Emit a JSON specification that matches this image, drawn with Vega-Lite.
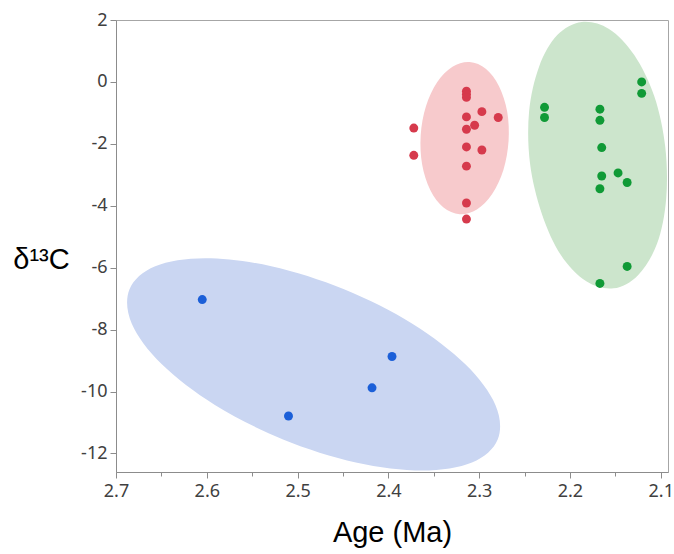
{
  "$schema": "https://vega.github.io/schema/vega-lite/v6.json",
  "width": 552,
  "height": 452,
  "autosize": "none",
  "padding": {"left": 116, "top": 20, "right": 6, "bottom": 82},
  "background": "white",
  "config": {
    "view": {"stroke": "#a6a6a6", "strokeWidth": 1},
    "axis": {
      "domainColor": "#8c8c8c",
      "tickColor": "#8c8c8c",
      "grid": false,
      "labelFont": "Noto Sans",
      "labelFontSize": 18,
      "labelColor": "#404040",
      "titleFont": "Liberation Sans",
      "titleFontWeight": "normal",
      "titleColor": "#000000"
    }
  },
  "datasets": {
    "pts": [
      {"g": "red", "age": 2.314, "d13c": -0.3},
      {"g": "red", "age": 2.314, "d13c": -0.4},
      {"g": "red", "age": 2.314, "d13c": -0.5},
      {"g": "red", "age": 2.297, "d13c": -0.96},
      {"g": "red", "age": 2.279, "d13c": -1.15},
      {"g": "red", "age": 2.314, "d13c": -1.13},
      {"g": "red", "age": 2.305, "d13c": -1.4},
      {"g": "red", "age": 2.314, "d13c": -1.53},
      {"g": "red", "age": 2.372, "d13c": -1.49},
      {"g": "red", "age": 2.372, "d13c": -2.37},
      {"g": "red", "age": 2.314, "d13c": -2.1},
      {"g": "red", "age": 2.297, "d13c": -2.2},
      {"g": "red", "age": 2.314, "d13c": -2.72},
      {"g": "red", "age": 2.314, "d13c": -3.91},
      {"g": "red", "age": 2.314, "d13c": -4.43},
      {"g": "green", "age": 2.121, "d13c": 0.0},
      {"g": "green", "age": 2.121, "d13c": -0.37},
      {"g": "green", "age": 2.228, "d13c": -0.82},
      {"g": "green", "age": 2.228, "d13c": -1.15},
      {"g": "green", "age": 2.167, "d13c": -0.88},
      {"g": "green", "age": 2.167, "d13c": -1.24},
      {"g": "green", "age": 2.165, "d13c": -2.12},
      {"g": "green", "age": 2.165, "d13c": -3.04},
      {"g": "green", "age": 2.167, "d13c": -3.45},
      {"g": "green", "age": 2.147, "d13c": -2.94},
      {"g": "green", "age": 2.137, "d13c": -3.25},
      {"g": "green", "age": 2.137, "d13c": -5.96},
      {"g": "green", "age": 2.167, "d13c": -6.51},
      {"g": "blue", "age": 2.605, "d13c": -7.03},
      {"g": "blue", "age": 2.51, "d13c": -10.79},
      {"g": "blue", "age": 2.418, "d13c": -9.88},
      {"g": "blue", "age": 2.396, "d13c": -8.87}
    ],
    "ell": [
      {"g": "blue", "i": 0, "age": 2.2796, "d13c": -11.547},
      {"g": "blue", "i": 1, "age": 2.2821, "d13c": -10.435},
      {"g": "blue", "i": 2, "age": 2.3152, "d13c": -9.122},
      {"g": "blue", "i": 3, "age": 2.3736, "d13c": -7.809},
      {"g": "blue", "i": 4, "age": 2.4488, "d13c": -6.697},
      {"g": "blue", "i": 5, "age": 2.529, "d13c": -5.953},
      {"g": "blue", "i": 6, "age": 2.6019, "d13c": -5.695},
      {"g": "blue", "i": 7, "age": 2.6568, "d13c": -5.953},
      {"g": "blue", "i": 8, "age": 2.6851, "d13c": -6.697},
      {"g": "blue", "i": 9, "age": 2.6826, "d13c": -7.809},
      {"g": "blue", "i": 10, "age": 2.6495, "d13c": -9.122},
      {"g": "blue", "i": 11, "age": 2.5911, "d13c": -10.435},
      {"g": "blue", "i": 12, "age": 2.516, "d13c": -11.547},
      {"g": "blue", "i": 13, "age": 2.4358, "d13c": -12.29},
      {"g": "blue", "i": 14, "age": 2.3628, "d13c": -12.549},
      {"g": "blue", "i": 15, "age": 2.3079, "d13c": -12.29},
      {"g": "red", "i": 0, "age": 2.3215, "d13c": -4.272},
      {"g": "red", "i": 1, "age": 2.3025, "d13c": -4.12},
      {"g": "red", "i": 2, "age": 2.2857, "d13c": -3.619},
      {"g": "red", "i": 3, "age": 2.2733, "d13c": -2.843},
      {"g": "red", "i": 4, "age": 2.2676, "d13c": -1.909},
      {"g": "red", "i": 5, "age": 2.2691, "d13c": -0.962},
      {"g": "red", "i": 6, "age": 2.278, "d13c": -0.147},
      {"g": "red", "i": 7, "age": 2.2924, "d13c": 0.419},
      {"g": "red", "i": 8, "age": 2.3105, "d13c": 0.642},
      {"g": "red", "i": 9, "age": 2.3294, "d13c": 0.49},
      {"g": "red", "i": 10, "age": 2.3463, "d13c": -0.011},
      {"g": "red", "i": 11, "age": 2.3586, "d13c": -0.787},
      {"g": "red", "i": 12, "age": 2.3644, "d13c": -1.721},
      {"g": "red", "i": 13, "age": 2.3628, "d13c": -2.669},
      {"g": "red", "i": 14, "age": 2.354, "d13c": -3.483},
      {"g": "red", "i": 15, "age": 2.3396, "d13c": -4.049},
      {"g": "green", "i": 0, "age": 2.152, "d13c": -6.668},
      {"g": "green", "i": 1, "age": 2.125, "d13c": -6.241},
      {"g": "green", "i": 2, "age": 2.104, "d13c": -5.223},
      {"g": "green", "i": 3, "age": 2.094, "d13c": -3.771},
      {"g": "green", "i": 4, "age": 2.095, "d13c": -2.103},
      {"g": "green", "i": 5, "age": 2.107, "d13c": -0.473},
      {"g": "green", "i": 6, "age": 2.129, "d13c": 0.862},
      {"g": "green", "i": 7, "age": 2.157, "d13c": 1.712},
      {"g": "green", "i": 8, "age": 2.187, "d13c": 1.939},
      {"g": "green", "i": 9, "age": 2.214, "d13c": 1.512},
      {"g": "green", "i": 10, "age": 2.234, "d13c": 0.493},
      {"g": "green", "i": 11, "age": 2.245, "d13c": -0.958},
      {"g": "green", "i": 12, "age": 2.244, "d13c": -2.627},
      {"g": "green", "i": 13, "age": 2.231, "d13c": -4.256},
      {"g": "green", "i": 14, "age": 2.21, "d13c": -5.591},
      {"g": "green", "i": 15, "age": 2.182, "d13c": -6.442}
    ]
  },
  "encoding": {
    "x": {
      "field": "age",
      "type": "quantitative",
      "scale": {"domain": [2.092, 2.7], "reverse": true, "nice": false, "zero": false},
      "axis": {
        "title": "Age (Ma)",
        "titleFontSize": 29,
        "titleBaseline": "alphabetic",
        "titleY": 69,
        "values": [2.1, 2.15, 2.2, 2.25, 2.3, 2.35, 2.4, 2.45, 2.5, 2.55, 2.6, 2.65, 2.7],
        "labelExpr": "round(datum.value*100) % 10 == 0 ? format(datum.value, '.1f') : ''",
        "tickSize": {"condition": {"test": "round(datum.value*100) % 10 != 0", "value": 4}, "value": 6},
        "labelPadding": 4,
        "labelFlush": false,
        "labelOverlap": false
      }
    },
    "y": {
      "field": "d13c",
      "type": "quantitative",
      "scale": {"domain": [-12.6, 2], "nice": false, "zero": false},
      "axis": {
        "title": "δ¹³C",
        "titleAngle": 0,
        "titleFontSize": 29,
        "titleAlign": "center",
        "titleBaseline": "alphabetic",
        "titleX": -75,
        "titleY": 248,
        "values": [-12, -10, -8, -6, -4, -2, 0, 2],
        "labelExpr": "'' + datum.value",
        "tickSize": 6,
        "labelPadding": 3,
        "labelFlush": false,
        "labelOverlap": false
      }
    }
  },
  "layer": [
    {
      "data": {"name": "ell"},
      "transform": [{"filter": "datum.g == 'blue'"}],
      "mark": {"type": "line", "interpolate": "cardinal-closed", "fill": "#cad6f2", "strokeOpacity": 0},
      "encoding": {"order": {"field": "i", "type": "quantitative"}}
    },
    {
      "data": {"name": "ell"},
      "transform": [{"filter": "datum.g == 'red'"}],
      "mark": {"type": "line", "interpolate": "cardinal-closed", "fill": "#f7cacc", "strokeOpacity": 0},
      "encoding": {"order": {"field": "i", "type": "quantitative"}}
    },
    {
      "data": {"name": "ell"},
      "transform": [{"filter": "datum.g == 'green'"}],
      "mark": {"type": "line", "interpolate": "cardinal-closed", "fill": "#cce5cc", "strokeOpacity": 0},
      "encoding": {"order": {"field": "i", "type": "quantitative"}}
    },
    {
      "data": {"name": "pts"},
      "mark": {"type": "circle", "size": 80, "opacity": 1},
      "encoding": {
        "color": {
          "field": "g",
          "type": "nominal",
          "scale": {"domain": ["red", "green", "blue"], "range": ["#d63a4c", "#109a36", "#1b5fd8"]},
          "legend": null
        }
      }
    }
  ]
}
